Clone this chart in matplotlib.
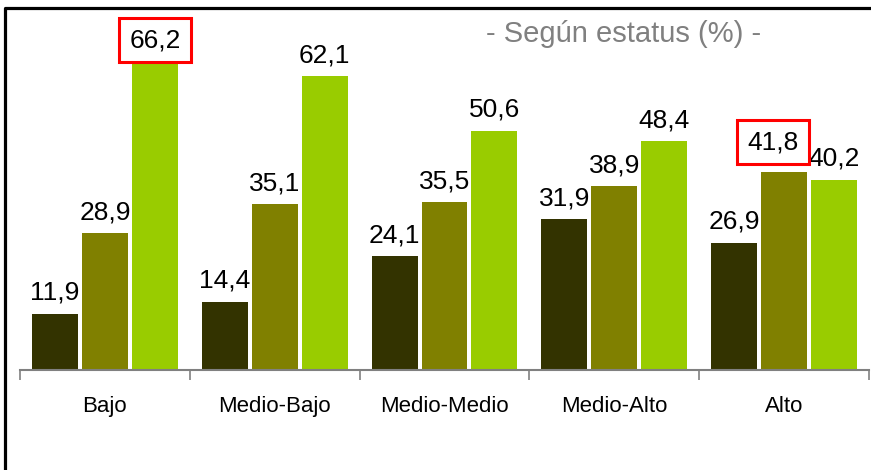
import matplotlib
matplotlib.use("Agg")
import matplotlib.pyplot as plt
import numpy as np
from matplotlib.lines import Line2D

plt.rcParams["font.family"] = ["Liberation Sans", "DejaVu Sans"]

categories = ["Bajo", "Medio-Bajo", "Medio-Medio", "Medio-Alto", "Alto"]
serie_1 = [11.9, 14.4, 24.1, 31.9, 26.9]
serie_2 = [28.9, 35.1, 35.5, 38.9, 41.8]
serie_3 = [66.2, 62.1, 50.6, 48.4, 40.2]
colors = ["#333300", "#808000", "#99CC00"]

# labels with a red box: (series index, category index) -> label offset (pt)
highlight = {(2, 0): (0, 7), (1, 4): (-8, 16.5)}

fig = plt.figure(figsize=(8.71, 4.70), dpi=100)
ax = fig.add_axes([20 / 871, 1 - 370 / 470, 849 / 871, 362 / 470])

x = np.arange(len(categories))
step = 50 / 170
width = 46 / 170

for s, (vals, col) in enumerate(zip([serie_1, serie_2, serie_3], colors)):
    xs = x + (s - 1) * step
    ax.bar(xs, vals, width=width, color=col, zorder=2)
    for i, (xi, v) in enumerate(zip(xs, vals)):
        label = f"{v:.1f}".replace(".", ",")
        if (s, i) in highlight:
            ax.annotate(label, (xi, v), xytext=highlight[(s, i)], textcoords="offset points",
                        ha="center", va="baseline", fontsize=19, zorder=5,
                        bbox=dict(boxstyle="square,pad=0.38", fc="white",
                                  ec="#FF0000", lw=2.2))
        else:
            ax.annotate(label, (xi, v), xytext=(0, 10), textcoords="offset points",
                        ha="center", va="baseline", fontsize=19)

ax.set_xlim(-0.5, len(categories) - 0.5)
ax.set_ylim(0, 362 / 4.73)

ax.set_xticks(x)
ax.set_xticklabels(categories, fontsize=16)
ax.tick_params(axis="x", which="major", length=0, pad=19)
ax.set_xticks(np.arange(len(categories) + 1) - 0.5, minor=True)
ax.tick_params(axis="x", which="minor", length=7, width=1.2, color="#808080")
ax.set_yticks([])

for side in ["top", "right", "left"]:
    ax.spines[side].set_visible(False)
ax.spines["bottom"].set_color("#808080")
ax.spines["bottom"].set_linewidth(1.5)

fig.text(624 / 871, 1 - 34 / 470, "- Según estatus (%) -", ha="center", va="center",
         fontsize=21, color="#808080")

# outer frame (left and top edges visible)
fy = 1 - 8 / 470
fx = 5 / 871
fig.add_artist(Line2D([fx, fx, 1.01], [-0.01, fy, fy], transform=fig.transFigure,
                      color="black", lw=2.3))

fig.savefig("out.png", dpi=100)
